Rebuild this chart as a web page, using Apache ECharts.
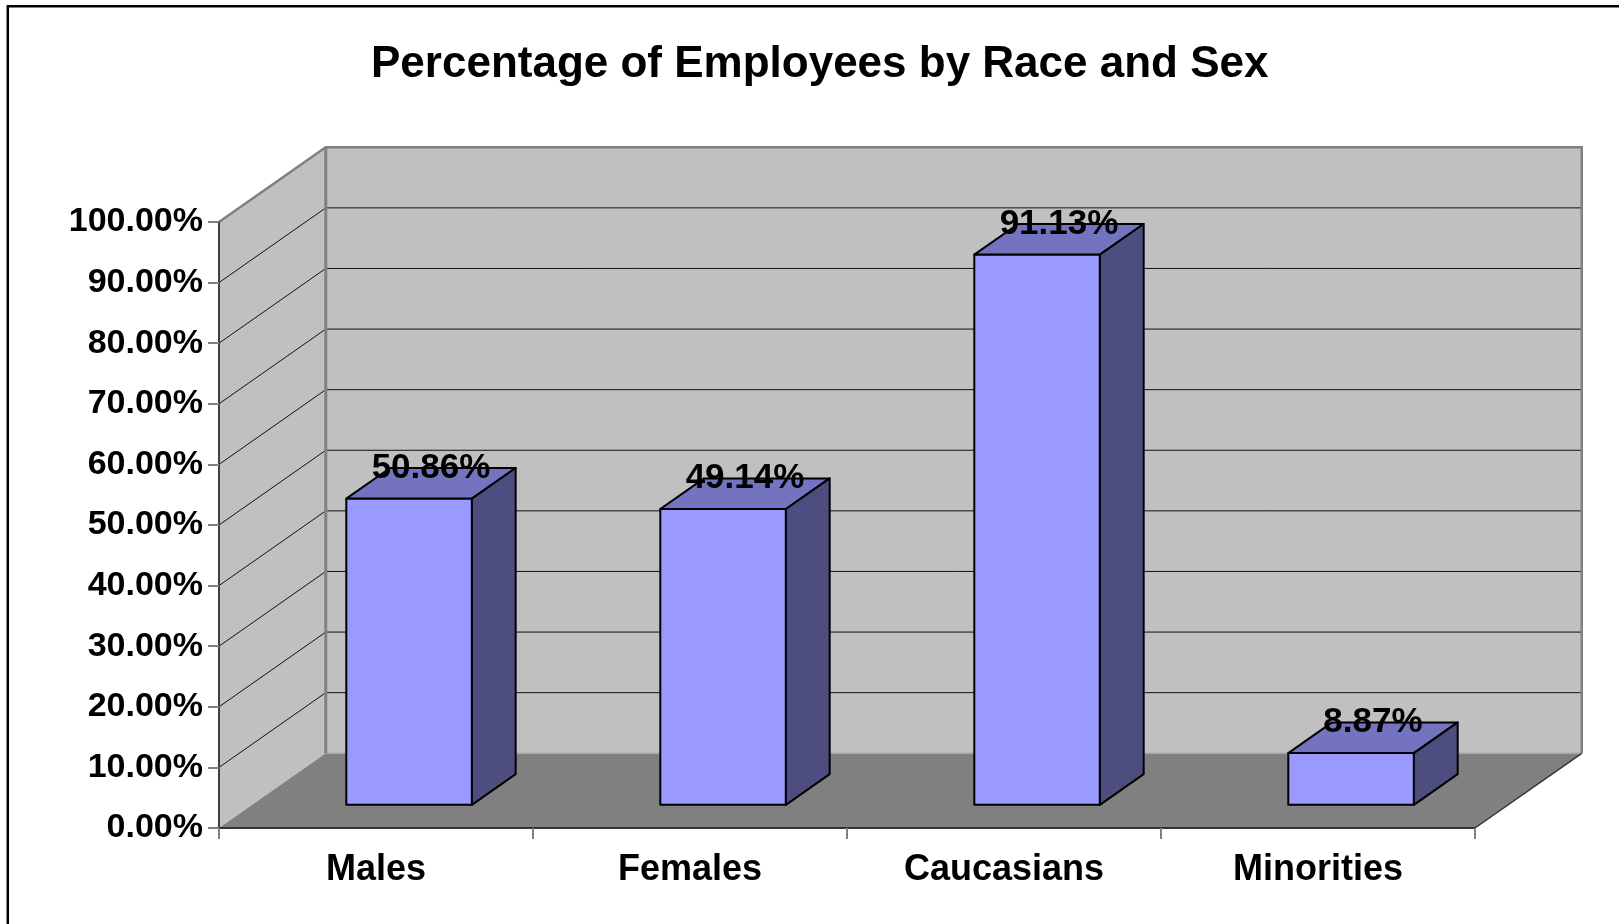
<!DOCTYPE html>
<html>
<head>
<meta charset="utf-8">
<script src="https://cdn.jsdelivr.net/npm/echarts@6/dist/echarts.min.js"></script>
<style>
html,body{margin:0;padding:0;background:#fff;}
#chart{width:1619px;height:924px;}
</style>
</head>
<body>
<div id="chart"></div>
<script>
const titleText = 'Percentage of Employees by Race and Sex';
const categories = ['Males', 'Females', 'Caucasians', 'Minorities'];
const values = [50.86, 49.14, 91.13, 8.87];
const valueLabels = ['50.86%', '49.14%', '91.13%', '8.87%'];
const yTicks = [0, 10, 20, 30, 40, 50, 60, 70, 80, 90, 100];
const yTickLabels = ['0.00%', '10.00%', '20.00%', '30.00%', '40.00%', '50.00%', '60.00%', '70.00%', '80.00%', '90.00%', '100.00%'];

const FONT = '"Liberation Sans", Arial, sans-serif';
const DEPTH_FRAC = 0.34;     // depth offset as fraction of band width
const DEPTH_SLOPE = -0.70;   // dy/dx of depth direction
const BAR_FRONT = 0.31, BAR_BACK = 0.72, BAR_W = 0.40;

const chart = echarts.init(document.getElementById('chart'));

function depth(api) {
  const band = api.size([1, 0])[0];
  const dx = band * DEPTH_FRAC;
  return [dx, dx * DEPTH_SLOPE, band];
}

function renderWalls(params, api) {
  const [dx, dy, band] = depth(api);
  const xl = api.coord([0, 0])[0] - band / 2;
  const xr = api.coord([categories.length - 1, 0])[0] + band / 2;
  const y0 = api.coord([0, yTicks[0]])[1];
  const yT = api.coord([0, yTicks[yTicks.length - 1]])[1];
  const ch = [];
  ch.push({type: 'polygon', shape: {points: [[xl + dx, yT + dy], [xr + dx, yT + dy], [xr + dx, y0 + dy], [xl + dx, y0 + dy]]}, style: {fill: '#C0C0C0'}});
  ch.push({type: 'polygon', shape: {points: [[xl, yT], [xl + dx, yT + dy], [xl + dx, y0 + dy], [xl, y0]]}, style: {fill: '#C0C0C0'}});
  ch.push({type: 'polygon', shape: {points: [[xl, y0], [xr, y0], [xr + dx, y0 + dy], [xl + dx, y0 + dy]]}, style: {fill: '#808080'}});
  for (let i = 1; i < yTicks.length - 1; i++) {
    const y = api.coord([0, yTicks[i]])[1];
    ch.push({type: 'polyline', shape: {points: [[xl, y], [xl + dx, y + dy], [xr + dx, y + dy]]}, style: {stroke: '#111', lineWidth: 1, fill: null}});
  }
  ch.push({type: 'line', shape: {x1: xl + dx, y1: y0 + dy, x2: xr + dx, y2: y0 + dy}, style: {stroke: '#A8A8A8', lineWidth: 1.5}});
  ch.push({type: 'polyline', shape: {points: [[xl, yT], [xl + dx, yT + dy], [xr + dx, yT + dy], [xr + dx, y0 + dy]]}, style: {stroke: '#808080', lineWidth: 2.5, fill: null}});
  ch.push({type: 'line', shape: {x1: xl + dx, y1: yT + dy, x2: xl + dx, y2: y0 + dy}, style: {stroke: '#808080', lineWidth: 3}});
  ch.push({type: 'line', shape: {x1: xr, y1: y0, x2: xr + dx, y2: y0 + dy}, style: {stroke: '#333', lineWidth: 1.5}});
  return {type: 'group', children: ch};
}

function renderBars(params, api) {
  const [dx, dy, band] = depth(api);
  const cat = api.value(0), val = api.value(1);
  const top = api.coord([cat, val]);
  const base = api.coord([cat, 0]);
  const w = band * BAR_W;
  const x1 = top[0] - w / 2 + BAR_FRONT * dx, x2 = x1 + w;
  const yt = top[1] + BAR_FRONT * dy + 2, yb = base[1] + BAR_FRONT * dy;
  const ddx = (BAR_BACK - BAR_FRONT) * dx, ddy = (BAR_BACK - BAR_FRONT) * dy;
  const stroke = {stroke: '#000', lineWidth: 2, lineJoin: 'round'};
  return {type: 'group', children: [
    {type: 'polygon', shape: {points: [[x1, yt], [x2, yt], [x2, yb], [x1, yb]]}, style: Object.assign({fill: '#9999FF'}, stroke)},
    {type: 'polygon', shape: {points: [[x1, yt], [x2, yt], [x2 + ddx, yt + ddy], [x1 + ddx, yt + ddy]]}, style: Object.assign({fill: '#7373BF'}, stroke)},
    {type: 'polygon', shape: {points: [[x2, yt], [x2 + ddx, yt + ddy], [x2 + ddx, yb + ddy], [x2, yb]]}, style: Object.assign({fill: '#4D4D80'}, stroke)},
    {type: 'text', x: top[0] + (BAR_FRONT + BAR_BACK) / 2 * dx, y: top[1] + BAR_BACK * dy + 2,
      style: {text: valueLabels[params.dataIndex], fill: '#000', font: 'bold 35px ' + FONT, align: 'center', verticalAlign: 'middle'}}
  ]};
}

chart.setOption({
  animation: false,
  backgroundColor: '#fff',
  title: {
    text: titleText, left: 371, top: 43, padding: 0,
    textStyle: {fontSize: 44, fontWeight: 'bold', color: '#000', fontFamily: FONT}
  },
  graphic: [{type: 'rect', shape: {x: 7.8, y: 6.2, width: 1700, height: 1000}, style: {fill: null, stroke: '#000', lineWidth: 2.5}, z: 100}],
  grid: {left: 219, right: 144, top: 222, bottom: 96},
  xAxis: {
    type: 'category', data: categories, boundaryGap: true, z: 10,
    axisLine: {show: true, lineStyle: {color: '#333', width: 2}},
    axisTick: {show: true, length: 11, interval: 0, lineStyle: {color: '#808080', width: 2}},
    axisLabel: {margin: 24, fontSize: 36, fontWeight: 'bold', color: '#000', fontFamily: FONT, interval: 0},
    splitLine: {show: false}
  },
  yAxis: {
    type: 'value', min: 0, max: 100, interval: 10, z: 10,
    axisLine: {show: true, lineStyle: {color: '#404040', width: 2}},
    axisTick: {show: true, length: 11, lineStyle: {color: '#808080', width: 2}},
    axisLabel: {margin: 16, fontSize: 34, fontWeight: 'bold', color: '#000', fontFamily: FONT,
      formatter: v => yTickLabels[yTicks.indexOf(v)]},
    splitLine: {show: false}
  },
  series: [
    {type: 'custom', name: 'walls', clip: false, z: 1, silent: true, renderItem: renderWalls, data: [[0, 0]], encode: {x: 0, y: 1}},
    {type: 'custom', name: 'bars', clip: false, z: 3, renderItem: renderBars, data: values.map((v, i) => [i, v]), encode: {x: 0, y: 1}}
  ]
});
</script>
</body>
</html>
